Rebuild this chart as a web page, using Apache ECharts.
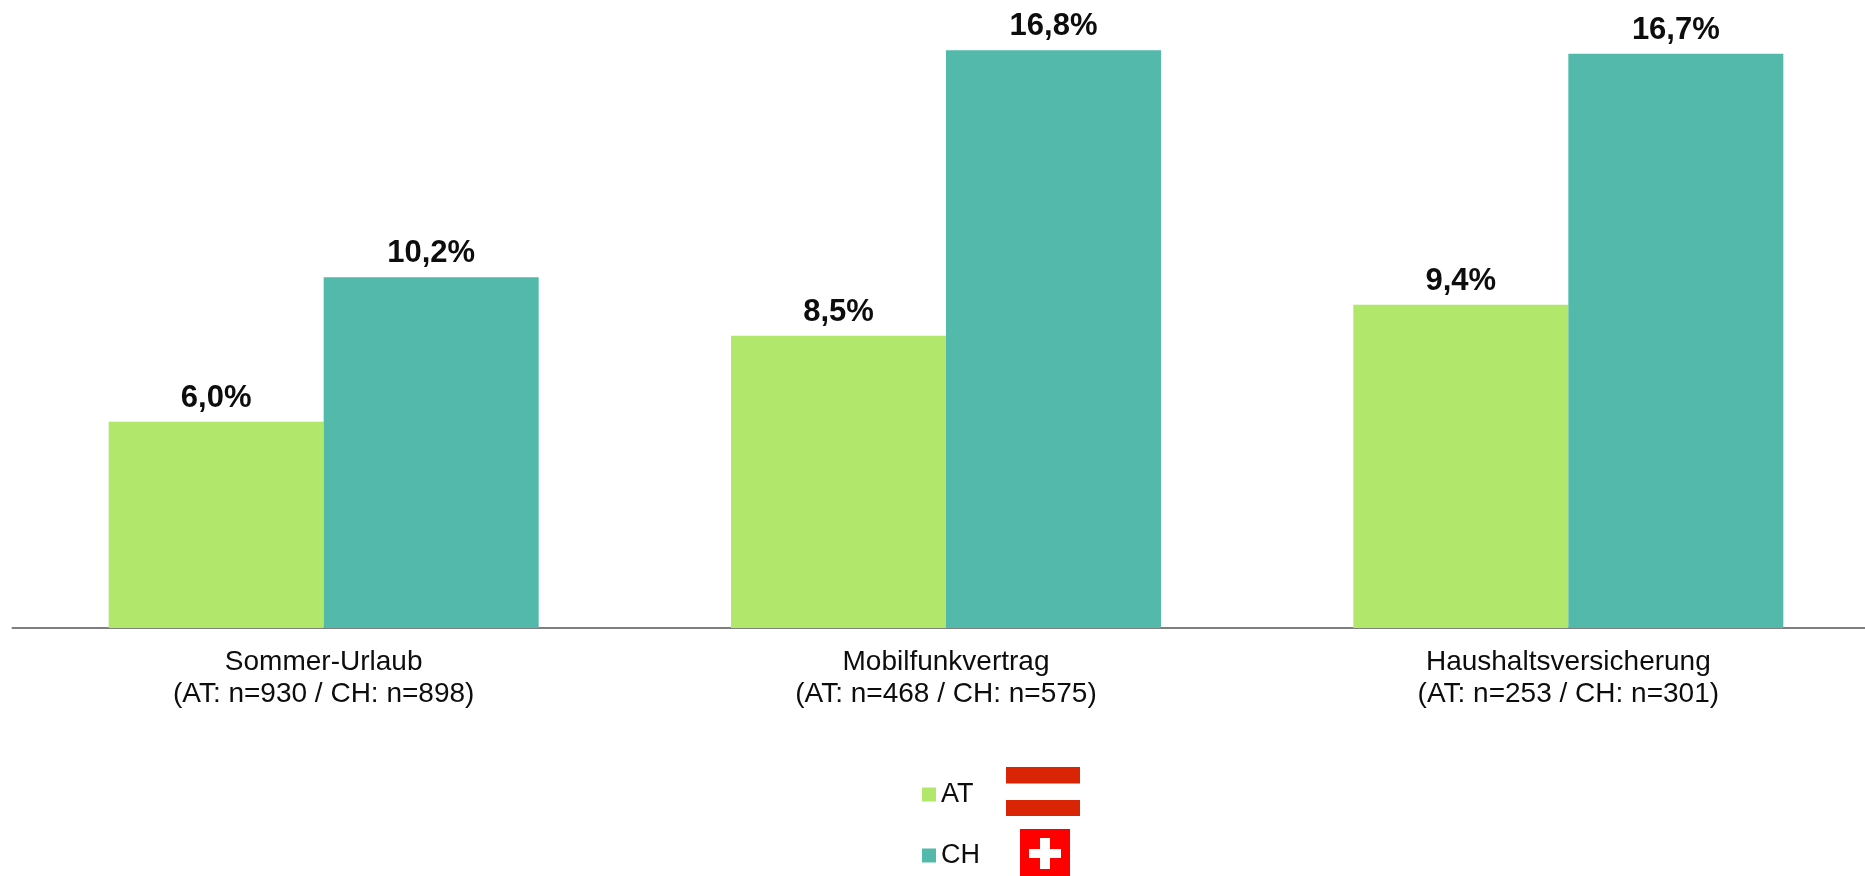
<!DOCTYPE html>
<html><head><meta charset="utf-8">
<style>html,body{margin:0;padding:0;background:#fff;overflow:hidden}#c{width:1865px;height:876px}</style>
<script src="https://cdn.jsdelivr.net/npm/echarts@6/dist/echarts.min.js"></script>
</head><body><div id="c"></div>
<script>
const categories = ["Sommer-Urlaub\n(AT: n=930 / CH: n=898)", "Mobilfunkvertrag\n(AT: n=468 / CH: n=575)", "Haushaltsversicherung\n(AT: n=253 / CH: n=301)"];
const atValues = [6.0, 8.5, 9.4];
const chValues = [10.2, 16.8, 16.7];
const font = "Liberation Sans";
const fmt = p => p.value.toFixed(1).replace('.', ',') + '%';
const label = {show:true, position:'top', distance:8, formatter:fmt, fontFamily:font, fontWeight:'bold', fontSize:31, color:'#0d0d0d'};
const chart = echarts.init(document.getElementById('c'), null, {renderer:'canvas'});
chart.setOption({
  animation:false,
  backgroundColor:'#fff',
  grid:{left:12.5, top:9, width:1867, height:619, outerBoundsMode:'none'},
  legend:{orient:'vertical', left:922, top:778, padding:0, itemWidth:14, itemHeight:14, itemGap:28, icon:'rect',
    data:['AT','CH'], textStyle:{fontFamily:font, fontSize:27, lineHeight:30, padding:[3,0,0,0], color:'#0d0d0d'}},
  xAxis:{type:'category', data:categories, axisTick:{show:false},
    axisLine:{lineStyle:{color:'#7f7f7f', width:2}},
    axisLabel:{fontFamily:font, fontSize:28, lineHeight:32, color:'#0d0d0d', margin:18, interval:0}},
  yAxis:{type:'value', min:0, max:18, show:false, splitLine:{show:false}},
  series:[
    {name:'AT', type:'bar', data:atValues, barWidth:215, barGap:0, itemStyle:{color:'#B1E76A'}, label},
    {name:'CH', type:'bar', data:chValues, barWidth:215, barGap:0, itemStyle:{color:'#52B9AB'}, label}
  ],
  graphic:[
    {type:'rect', shape:{x:1006,y:767,width:74,height:16.5}, style:{fill:'#D92405'}},
    {type:'rect', shape:{x:1006,y:800,width:74,height:16}, style:{fill:'#D92405'}},
    {type:'rect', shape:{x:1020,y:829,width:50,height:47}, style:{fill:'#FF0000'}},
    {type:'rect', shape:{x:1040,y:838,width:10,height:31}, style:{fill:'#FFFFFF'}},
    {type:'rect', shape:{x:1029,y:849,width:32,height:9}, style:{fill:'#FFFFFF'}}
  ]
});
</script></body></html>
